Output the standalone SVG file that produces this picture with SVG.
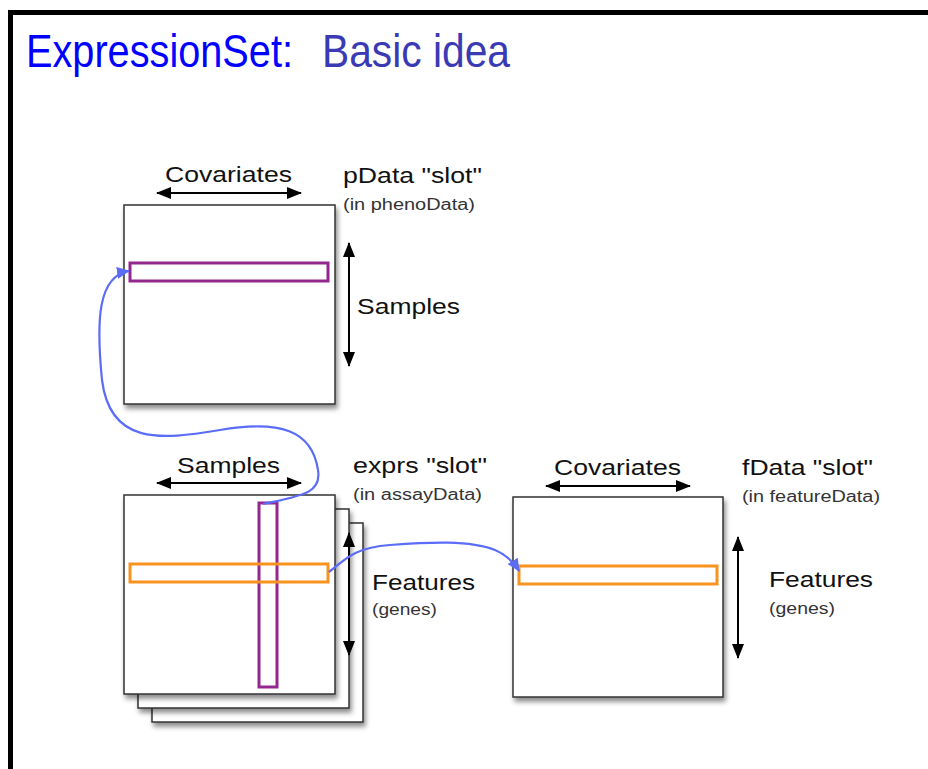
<svg xmlns="http://www.w3.org/2000/svg" width="928" height="769" viewBox="0 0 928 769">
  <style>
    .lbl { font-family: "Liberation Sans", Arial, sans-serif; fill: #111; }
    .big { font-size: 22px; }
    .small { font-size: 16px; fill: #333; }
    .title { font-family: "Liberation Sans", Arial, sans-serif; font-size: 40px; }
    .sheet { fill: #fff; stroke: #333; stroke-width: 1.5; filter: url(#shadow); }
    .row-p { fill: none; stroke: #93278f; stroke-width: 3; }
    .row-o { fill: none; stroke: #f7931e; stroke-width: 3; }
    .dim { fill: none; stroke: #000; stroke-width: 2; marker-start: url(#headS); marker-end: url(#headE); }
    .link { fill: none; stroke: #5b6cf8; stroke-width: 2.2; marker-end: url(#blueHead); }
  </style>
  <defs>
    <filter id="shadow" x="-10%" y="-10%" width="130%" height="130%">
      <feDropShadow dx="2" dy="4" stdDeviation="2.5" flood-color="#000" flood-opacity="0.45"/>
    </filter>
    <marker id="headE" markerUnits="userSpaceOnUse" markerWidth="16" markerHeight="12" refX="14" refY="6" orient="auto">
      <path d="M0,0 L15,6 L0,12 Z" fill="#000"/>
    </marker>
    <marker id="headS" markerUnits="userSpaceOnUse" markerWidth="16" markerHeight="12" refX="1" refY="6" orient="auto">
      <path d="M15,0 L0,6 L15,12 Z" fill="#000"/>
    </marker>
    <marker id="blueHead" markerUnits="userSpaceOnUse" markerWidth="14" markerHeight="12" refX="12" refY="6" orient="auto">
      <path d="M0,0 L13,6 L0,12 Z" fill="#5b6cf8"/>
    </marker>
  </defs>

  <rect width="928" height="769" fill="#fff"/>
  <!-- slide frame -->
  <rect x="10.5" y="12.5" width="940" height="800" fill="none" stroke="#000" stroke-width="5"/>

  <!-- title, stretched vertically to the slide's tall sans face -->
  <g transform="translate(0,67) scale(1,1.15)">
    <text class="title" x="26" y="0" fill="#0000ff" textLength="267" lengthAdjust="spacingAndGlyphs">ExpressionSet:</text>
    <text class="title" x="322" y="0" fill="#3a3ab5" textLength="188" lengthAdjust="spacingAndGlyphs">Basic idea</text>
  </g>

  <!-- phenoData -->
  <g id="pdata">
    <rect class="sheet" x="124" y="205" width="211" height="199"/>
    <rect class="row-p" x="130" y="263" width="198" height="18"/>
    <path class="dim" d="M157,193 H301"/>
    <text class="lbl big" x="165" y="182" textLength="127" lengthAdjust="spacingAndGlyphs">Covariates</text>
    <text class="lbl big" x="343" y="183" textLength="139" lengthAdjust="spacingAndGlyphs">pData "slot"</text>
    <text class="lbl small" x="343" y="210" textLength="132" lengthAdjust="spacingAndGlyphs">(in phenoData)</text>
    <path class="dim" d="M349,243 V366"/>
    <text class="lbl big" x="357" y="314" textLength="103" lengthAdjust="spacingAndGlyphs">Samples</text>
  </g>

  <!-- assayData -->
  <g id="exprs">
    <rect class="sheet" x="152" y="523" width="211" height="199"/>
    <rect class="sheet" x="138" y="509" width="211" height="199"/>
    <rect class="sheet" x="124" y="495" width="211" height="199"/>
    <rect class="row-p" x="259" y="503" width="18" height="184"/>
    <rect class="row-o" x="130" y="564" width="198" height="18"/>
    <path class="dim" d="M157,483 H301"/>
    <text class="lbl big" x="177" y="473" textLength="103" lengthAdjust="spacingAndGlyphs">Samples</text>
    <text class="lbl big" x="353" y="473" textLength="134" lengthAdjust="spacingAndGlyphs">exprs "slot"</text>
    <text class="lbl small" x="353" y="500" textLength="129" lengthAdjust="spacingAndGlyphs">(in assayData)</text>
    <path class="dim" d="M349,533 V655"/>
    <text class="lbl big" x="372" y="590" textLength="103" lengthAdjust="spacingAndGlyphs">Features</text>
    <text class="lbl small" x="372" y="615" textLength="65" lengthAdjust="spacingAndGlyphs">(genes)</text>
  </g>

  <!-- featureData -->
  <g id="fdata">
    <rect class="sheet" x="513" y="497" width="210" height="200"/>
    <rect class="row-o" x="519" y="566" width="198" height="18"/>
    <path class="dim" d="M546,486 H690"/>
    <text class="lbl big" x="554" y="475" textLength="127" lengthAdjust="spacingAndGlyphs">Covariates</text>
    <text class="lbl big" x="742" y="475" textLength="131" lengthAdjust="spacingAndGlyphs">fData "slot"</text>
    <text class="lbl small" x="742" y="502" textLength="138" lengthAdjust="spacingAndGlyphs">(in featureData)</text>
    <path class="dim" d="M738,537 V658"/>
    <text class="lbl big" x="769" y="587" textLength="104" lengthAdjust="spacingAndGlyphs">Features</text>
    <text class="lbl small" x="769" y="614" textLength="66" lengthAdjust="spacingAndGlyphs">(genes)</text>
  </g>

  <!-- connectors -->
  <g id="connectors">
    <path class="link" d="M263,504 C300,496 322,494 318,470 C312,430 280,420 220,430 C160,440 110,445 102,380 C96,320 98,276 129,271"/>
    <path class="link" d="M329,572 C345,560 352,548 390,545 C430,542 470,540 495,550 C507,555 514,563 519,571"/>
  </g>
</svg>
